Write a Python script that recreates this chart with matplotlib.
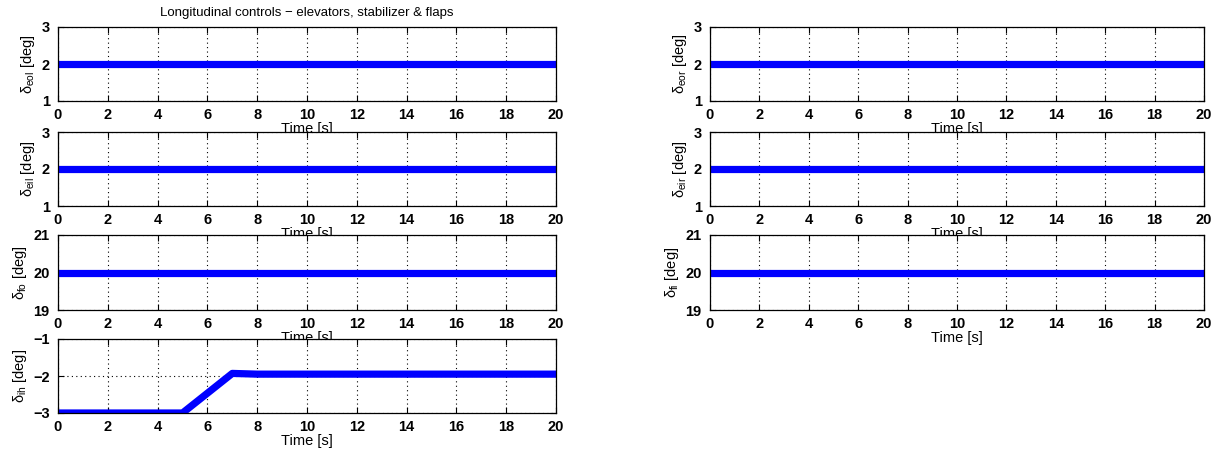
import matplotlib.pyplot as plt

plt.rcParams['font.family'] = ['Liberation Sans', 'DejaVu Sans']
plt.rcParams['mathtext.fontset'] = 'custom'
plt.rcParams['mathtext.rm'] = 'Liberation Sans'
plt.rcParams['mathtext.it'] = 'Liberation Sans'

# time base and signals
t = [0, 20]
t_ih = [0, 5, 7, 8, 20]
d_eol = [2, 2]
d_eor = [2, 2]
d_eil = [2, 2]
d_eir = [2, 2]
d_fo = [20, 20]
d_fi = [20, 20]
d_ih = [-3, -3, -1.93, -1.95, -1.95]

W, H = 1222, 458
fig = plt.figure(figsize=(W / 100, H / 100), dpi=100)

def make_ax(x0, x1, y0, y1):
    # pixel box -> figure fraction
    return fig.add_axes([x0 / W, 1 - y1 / H, (x1 - x0) / W, (y1 - y0) / H])

rows = [(27, 101), (132, 206), (235, 310), (339, 413)]
left = (58, 556)
right = (710, 1204)

panels = [
    (left, rows[0], t, d_eol, (1, 3), [1, 2, 3], r'$\delta_{eol}$ [deg]'),
    (right, rows[0], t, d_eor, (1, 3), [1, 2, 3], r'$\delta_{eor}$ [deg]'),
    (left, rows[1], t, d_eil, (1, 3), [1, 2, 3], r'$\delta_{eil}$ [deg]'),
    (right, rows[1], t, d_eir, (1, 3), [1, 2, 3], r'$\delta_{eir}$ [deg]'),
    (left, rows[2], t, d_fo, (19, 21), [19, 20, 21], r'$\delta_{fo}$ [deg]'),
    (right, rows[2], t, d_fi, (19, 21), [19, 20, 21], r'$\delta_{fi}$ [deg]'),
    (left, rows[3], t_ih, d_ih, (-3, -1), [-3, -2, -1], r'$\delta_{ih}$ [deg]'),
]

axes = []
for (cx, cy, x, y, ylim, yt, lab) in panels:
    ax = make_ax(cx[0], cx[1], cy[0], cy[1])
    ax.plot(x, y, color='#0000ff', lw=5.2, solid_capstyle='butt')
    ax.set_xlim(0, 20)
    ax.set_ylim(*ylim)
    ax.set_xticks(range(0, 21, 2))
    ax.set_yticks(yt)
    ax.set_yticklabels([str(v).replace('-', '\u2212') for v in yt])
    ax.grid(True, color='black', linestyle=(0, (1, 3)), linewidth=0.8)
    ax.tick_params(direction='in', top=True, right=True, labelsize=10.5,
                   length=4)
    ax.tick_params(axis='x', pad=5)
    ax.tick_params(axis='y', pad=6)
    for lbl in ax.get_xticklabels() + ax.get_yticklabels():
        lbl.set_fontweight('bold')
    ax.set_xlabel('Time [s]', fontsize=10.5, labelpad=0)
    ax.set_ylabel(lab, fontsize=10.5, labelpad=3)
    for s in ax.spines.values():
        s.set_linewidth(0.9)
    axes.append(ax)

axes[0].set_title('Longitudinal controls \u2212 elevators, stabilizer & flaps', fontsize=9.5, pad=8)

fig.savefig('out.png', dpi=100)
